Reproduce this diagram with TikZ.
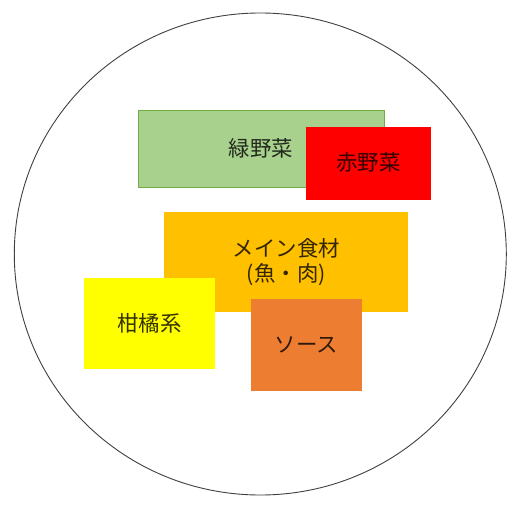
\documentclass[tikz,border=0pt]{standalone}
\usepackage{fontspec}
\usetikzlibrary{shapes.geometric}
\newfontfamily\jp{Noto Sans CJK JP}
\definecolor{cgreen}{HTML}{A9D18E}
\definecolor{cgreenb}{HTML}{70AD47}
\definecolor{cred}{HTML}{FF0000}
\definecolor{corange}{HTML}{FFC000}
\definecolor{cyellow}{HTML}{FFFF00}
\definecolor{csauce}{HTML}{ED7D31}
\begin{document}
\begin{tikzpicture}[x=1bp,y=-1bp,
  box/.style={inner sep=0pt,outer sep=0pt,font=\jp\fontsize{21.5}{25}\selectfont,
    text=black,text opacity=0.8,align=center},
  plate/.style={draw=black!75,line width=0.9bp}]
\useasboundingbox (0,0) rectangle (525,505);
\fill[white] (0,0) rectangle (525,505);
\node[plate,ellipse,minimum width=492bp,minimum height=482bp,inner sep=0pt] (plate) at (260.3,254) {};
\node[box,fill=cgreen,draw=cgreenb,line width=0.8bp,minimum width=246bp,minimum height=77bp] (green) at (261,148.5) {\raisebox{2bp}{緑野菜}};
\node[box,fill=cred,minimum width=125bp,minimum height=73bp] (red) at (368.5,163.5) {\raisebox{3bp}{赤野菜}};
\node[box,fill=corange,minimum width=244bp,minimum height=100.6bp] (main) at (286.3,262) {メイン食材\\(魚・肉)};
\node[box,fill=cyellow,minimum width=130.7bp,minimum height=91.6bp] (citrus) at (149.7,323.5) {\raisebox{1bp}{柑橘系}};
\node[box,fill=csauce,minimum width=110.7bp,minimum height=92bp] (sauce) at (306.3,345) {\raisebox{1bp}{ソース}};
\end{tikzpicture}
\end{document}
